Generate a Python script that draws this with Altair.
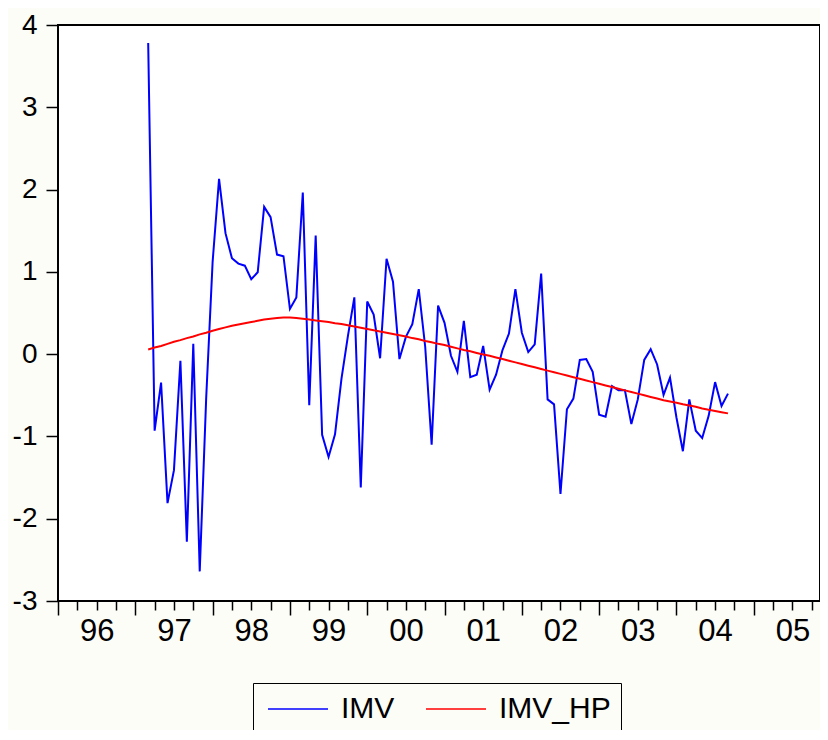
import altair as alt
import pandas as pd

# ---- data (monthly, 1997M03 .. 2004M09) ----
start_month = "1997-03"
imv = [3.78, -0.93, -0.345, -1.81, -1.41, -0.08, -2.28, 0.125, -2.64, -0.54,
       1.12, 2.13, 1.47, 1.165, 1.10, 1.075, 0.91, 0.995, 1.79, 1.665,
       1.21, 1.19, 0.55, 0.69, 1.965, -0.62, 1.44, -0.98, -1.25, -0.975,
       -0.30, 0.22, 0.69, -1.62, 0.64, 0.48, -0.05, 1.16, 0.88, -0.06,
       0.21, 0.365, 0.79, 0.09, -1.10, 0.59, 0.38, -0.02, -0.215, 0.405,
       -0.28, -0.25, 0.10, -0.43, -0.25, 0.05, 0.25, 0.79, 0.26, 0.025,
       0.12, 0.98, -0.55, -0.61, -1.70, -0.67, -0.54, -0.07, -0.06, -0.215,
       -0.735, -0.76, -0.39, -0.44, -0.44, -0.85, -0.55, -0.07, 0.06, -0.125,
       -0.495, -0.285, -0.77, -1.18, -0.55, -0.93, -1.02, -0.75, -0.34, -0.63,
       -0.48]
imv_hp = [0.057, 0.08, 0.10, 0.125, 0.15, 0.17, 0.195, 0.215, 0.24, 0.26,
          0.285, 0.305, 0.325, 0.345, 0.36, 0.375, 0.39, 0.405, 0.42, 0.43,
          0.44, 0.445, 0.445, 0.44, 0.43, 0.42, 0.41, 0.40, 0.39, 0.375,
          0.365, 0.35, 0.335, 0.32, 0.305, 0.29, 0.275, 0.26, 0.245, 0.23,
          0.215, 0.195, 0.18, 0.16, 0.145, 0.125, 0.11, 0.09, 0.07, 0.05,
          0.035, 0.015, -0.005, -0.02, -0.04, -0.06, -0.08, -0.10, -0.12, -0.14,
          -0.16, -0.18, -0.20, -0.22, -0.24, -0.26, -0.28, -0.30, -0.32, -0.34,
          -0.36, -0.38, -0.40, -0.42, -0.44, -0.46, -0.48, -0.50, -0.52, -0.54,
          -0.56, -0.575, -0.59, -0.61, -0.625, -0.64, -0.66, -0.675, -0.69, -0.705,
          -0.72]
series_names = ["IMV", "IMV_HP"]
series_colors = ["#0000FF", "#FF0000"]
y_ticks = [-3, -2, -1, 0, 1, 2, 3, 4]
x_domain = [1996, 2005.857]
quarter_ticks = [1996 + q / 4 for q in range(40)]

periods = pd.period_range(start_month, periods=len(imv), freq="M")
t = [p.year + (p.month - 1) / 12 for p in periods]
n = len(imv)
df = pd.DataFrame({
    "t": t + t,
    "value": imv + imv_hp,
    "series": [series_names[0]] * n + [series_names[1]] * n,
})

chart = alt.Chart(df).mark_line(strokeWidth=2, clip=True).encode(
    x=alt.X("t:Q",
            scale=alt.Scale(domain=x_domain, nice=False, zero=False),
            axis=alt.Axis(values=quarter_ticks, title=None, domain=False, grid=False,
                          tickSize={"condition": {"test": "datum.value % 1 == 0", "value": 14}, "value": 9},
                          tickColor="black", tickWidth=1.5,
                          labelExpr="abs(datum.value % 1 - 0.5) < 0.01 ? slice('0' + (floor(datum.value) % 100), -2) : ''",
                          labelFontSize=31, labelPadding=6, labelFlush=False,
                          labelOverlap=False, labelColor="black")),
    y=alt.Y("value:Q",
            scale=alt.Scale(domain=[-3, 4], nice=False, zero=False),
            axis=alt.Axis(values=y_ticks, title=None, domain=False, grid=False,
                          tickSize=12, tickColor="black", tickWidth=1.5,
                          labelExpr="'' + datum.value",
                          labelFontSize=28, labelPadding=9, labelColor="black")),
    color=alt.Color("series:N",
                    scale=alt.Scale(domain=series_names, range=series_colors),
                    legend=alt.Legend(title=None, orient="none", legendX=195, legendY=658,
                                      direction="horizontal", symbolType="M-2,0H2",
                                      symbolSize=900, symbolStrokeWidth=1.5,
                                      symbolOffset=19,
                                      labelFontSize=30, labelColor="black", labelOffset=27,
                                      columnPadding=26, padding=10,
                                      strokeColor="black", fillColor="#FDFDF8")),
).properties(
    width=762, height=576,
    padding={"left": 50, "top": 17, "right": 0, "bottom": 129},
    autosize=alt.AutoSizeParams(type="none"),
    background="#FDFDF8",
).configure(
    font="Liberation Sans"
).configure_view(
    stroke="black", strokeWidth=2, fill="white"
)

chart.save("out.html", embed_options={"renderer": "svg", "actions": False})
